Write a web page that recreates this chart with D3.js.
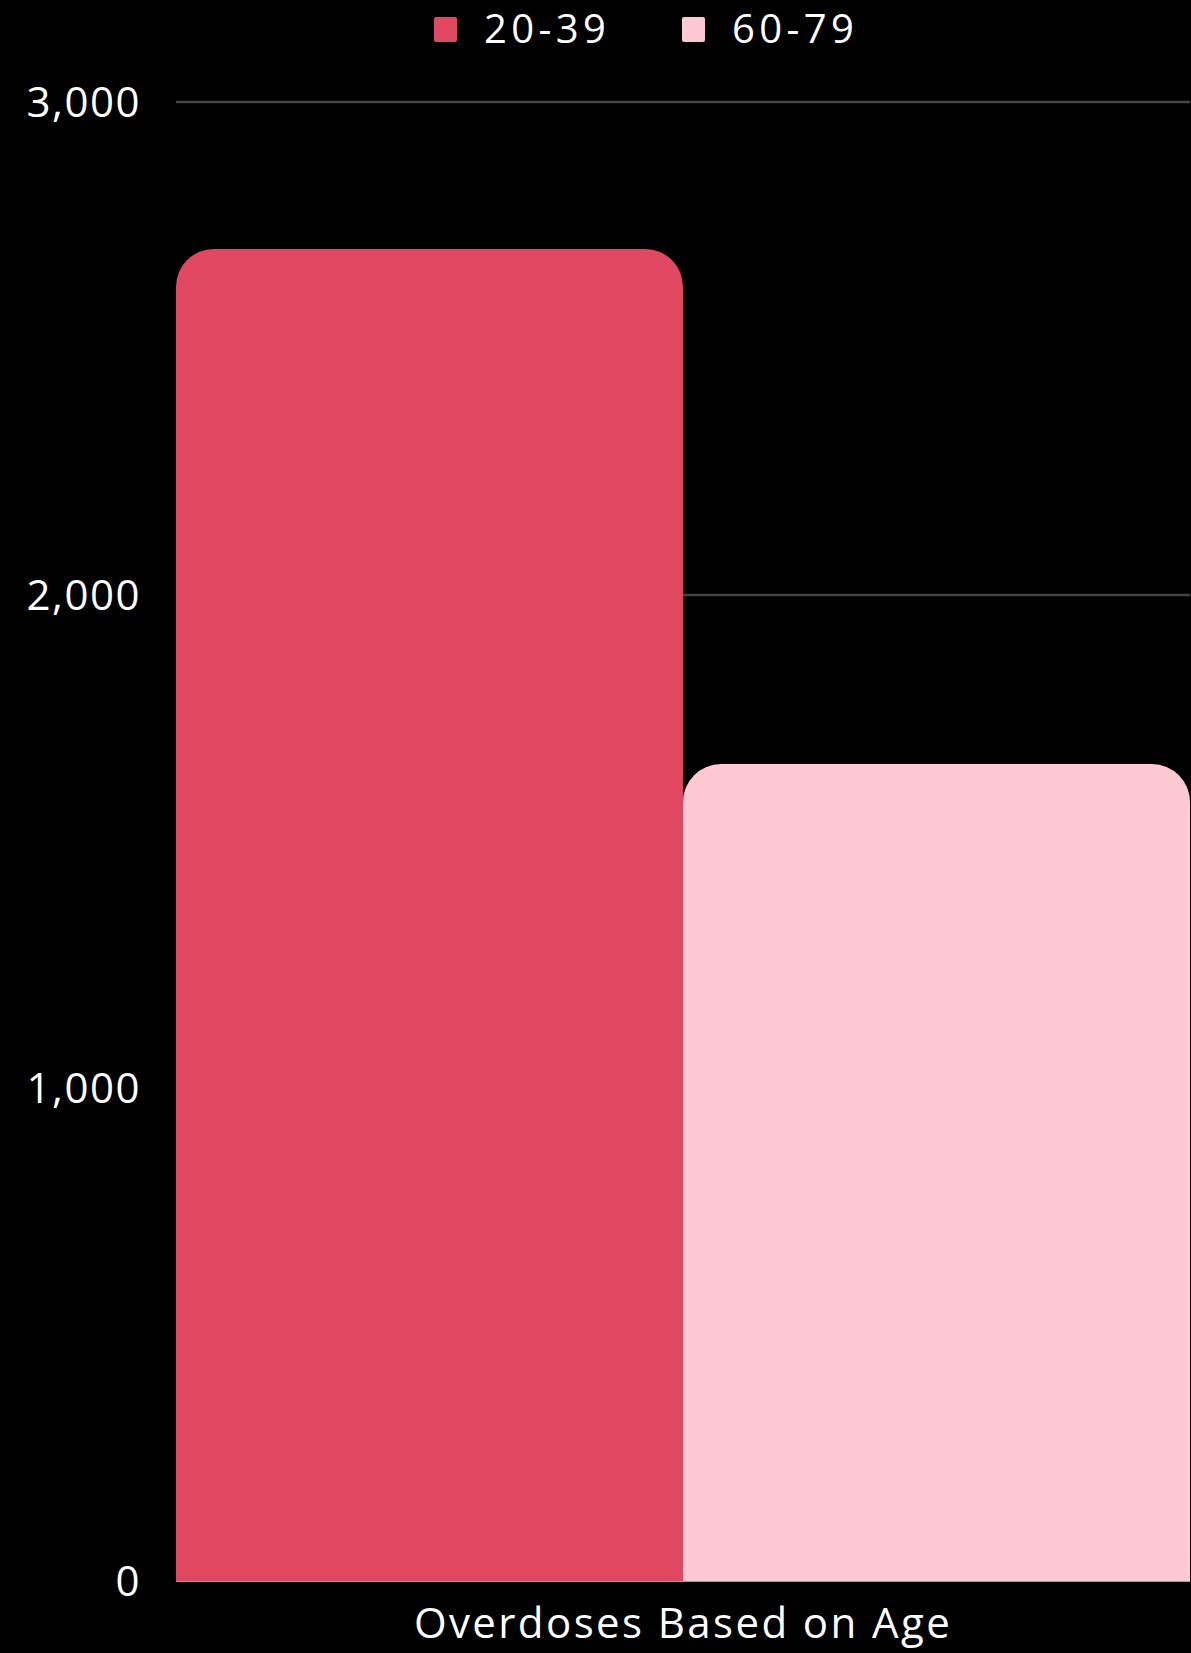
<!DOCTYPE html>
<html>
<head>
<meta charset="utf-8">
<script src="https://cdn.jsdelivr.net/npm/d3@7"></script>
<style>
  html, body { margin: 0; padding: 0; background: #000; }
  svg { display: block; }
  text { font-family: "Open Sans", sans-serif; fill: #fff; }
</style>
</head>
<body>
<svg class="chart"></svg>
<script>
// chart data
var categories = ["Overdoses Based on Age"];
var seriesNames = ["20-39", "60-79"];
var seriesValues = [2702, 1657];
var yTicks = [0, 1000, 2000, 3000];
var colors = ["#e04862", "#ffc9d3"];

window.onload = function() {

	var W = 1191, H = 1653;
	var margin = {top: 102, right: 1, bottom: 72, left: 176},
		width = W - margin.left - margin.right,
		height = H - margin.top - margin.bottom;

	var svg = d3.select(".chart")
		.attr("width", W)
		.attr("height", H);

	svg.append("rect")
		.attr("width", W)
		.attr("height", H)
		.attr("fill", "#000");

	var g = svg.append("g")
		.attr("transform", "translate(" + margin.left + "," + margin.top + ")");

	var y = d3.scaleLinear().domain([0, 3000]).range([height, 0]);
	var x0 = d3.scaleBand().domain(categories).range([0, width]).padding(0);
	var x1 = d3.scaleBand().domain(seriesNames).range([0, x0.bandwidth()]).padding(0);

	// grid lines
	g.append("g")
		.selectAll("line")
		.data(yTicks.filter(function(d) { return d > 0; }))
		.enter().append("line")
		.attr("x1", 0)
		.attr("x2", width)
		.attr("y1", function(d) { return y(d); })
		.attr("y2", function(d) { return y(d); })
		.attr("stroke", "#444")
		.attr("stroke-width", 2.5);

	// y axis labels
	var yAxis = d3.axisLeft(y)
		.tickValues(yTicks)
		.tickFormat(d3.format(","))
		.tickSize(0)
		.tickPadding(35);
	g.append("g")
		.call(yAxis)
		.call(function(a) { a.select(".domain").remove(); })
		.selectAll("text")
		.attr("font-size", 42)
		.attr("font-family", "Open Sans, sans-serif")
		.attr("letter-spacing", 1.5)
		.attr("fill", "#fff")
		.attr("dy", "0.34em");

	// bar with rounded top corners
	var r = 38;
	function topRounded(x, yTop, w, yBottom) {
		return "M" + x + "," + yBottom +
			"L" + x + "," + (yTop + r) +
			"A" + r + "," + r + " 0 0 1 " + (x + r) + "," + yTop +
			"L" + (x + w - r) + "," + yTop +
			"A" + r + "," + r + " 0 0 1 " + (x + w) + "," + (yTop + r) +
			"L" + (x + w) + "," + yBottom + "Z";
	}

	var bars = g.append("g")
		.selectAll("g")
		.data(categories)
		.enter().append("g")
		.attr("transform", function(d) { return "translate(" + x0(d) + ",0)"; });

	bars.selectAll("path")
		.data(seriesNames.map(function(s, i) { return {name: s, value: seriesValues[i], color: colors[i]}; }))
		.enter().append("path")
		.attr("d", function(d) {
			return topRounded(x1(d.name), y(d.value), x1.bandwidth(), y(0));
		})
		.attr("fill", function(d) { return d.color; });

	// baseline
	g.append("line")
		.attr("x1", 0)
		.attr("x2", width)
		.attr("y1", y(0) + 0.5)
		.attr("y2", y(0) + 0.5)
		.attr("stroke", "#9a9a9a")
		.attr("stroke-width", 1);

	// x axis label
	var xAxis = d3.axisBottom(x0).tickSize(0).tickPadding(27);
	g.append("g")
		.attr("transform", "translate(0," + height + ")")
		.call(xAxis)
		.call(function(a) { a.select(".domain").remove(); })
		.selectAll("text")
		.attr("font-size", 42)
		.attr("font-family", "Open Sans, sans-serif")
		.attr("letter-spacing", 2.4)
		.attr("fill", "#fff");

	// legend
	var legend = svg.append("g")
		.attr("transform", "translate(434,17)");
	var item = legend.selectAll("g")
		.data(seriesNames)
		.enter().append("g")
		.attr("transform", function(d, i) { return "translate(" + (i * 248) + ",0)"; });
	item.append("rect")
		.attr("width", 23)
		.attr("height", 25)
		.attr("rx", 2)
		.attr("fill", function(d, i) { return colors[i]; });
	item.append("text")
		.attr("x", 50)
		.attr("y", 26)
		.attr("font-size", 40)
		.attr("letter-spacing", 4.4)
		.text(function(d) { return d; });
};
</script>
</body>
</html>
